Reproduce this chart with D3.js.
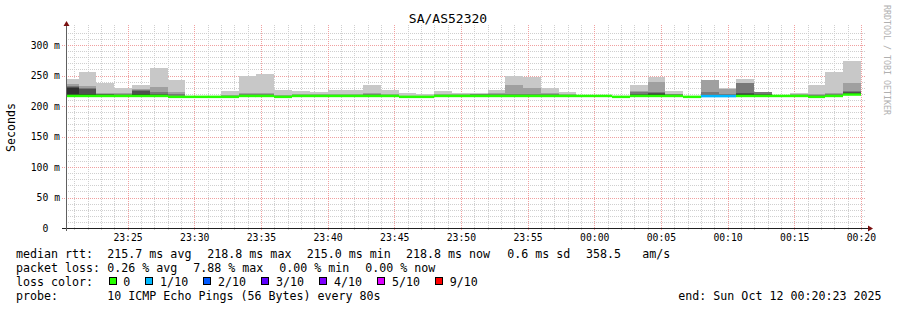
<!DOCTYPE html>
<html>
<head>
<meta charset="utf-8">
<script src="https://cdn.jsdelivr.net/npm/d3@7"></script>
<style>
  body { margin: 0; background: #fff; }
  text { font-family: "DejaVu Sans Mono", monospace; white-space: pre; fill: #000; }
</style>
</head>
<body>
<div id="chart"></div>
<script>
// ---- data, 80 s steps, values in ms ----
var title = "SA/AS52320";
var binStart = new Date(2025, 9, 11, 23, 20, 0);
var stepSec = 80;
var rangeStart = new Date(2025, 9, 11, 23, 20, 23);
var rangeEnd = new Date(2025, 9, 12, 0, 20, 23);

var medianRtt = [216.5,216.5,216.5,216.5,216.5,216.5,215.0,215.0,215.0,215.0,
                 216.5,216.5,215.0,216.5,216.5,216.5,216.5,216.5,216.5,215.0,
                 215.0,216.5,216.5,216.5,216.5,216.5,216.5,216.5,216.5,216.5,
                 216.5,215.0,216.5,216.5,216.5,215.0,216.2,216.2,216.5,216.5,
                 216.5,216.5,215.0,216.5,218.8];
var pingLow   = [215.5,215.5,215.5,215.5,215.5,215.5,214.5,214.5,214.5,214.5,
                 215.5,215.5,214.5,215.5,215.5,215.5,215.5,215.5,215.5,214.5,
                 214.5,215.5,215.5,215.5,215.5,215.5,215.5,215.5,215.5,215.5,
                 215.5,214.5,215.5,215.5,215.5,214.5,215.5,215.5,215.5,215.5,
                 215.5,215.5,214.5,215.5,217.5];
var pingMax   = [245,255,237,229,235,263,243,216,216,224,
                 249,252,227,224,223,226,227,234,227,221,
                 220,224,222,221,226,250,247,230,223,217,
                 217,216,234,247,224,216,243,229,245,223,
                 217,222,234,255,274];
var ping9     = [236,232,222,221,228,231,223,216,216,218,
                 221,221,218,219,219,219,219,221,219,217,
                 217,219,219,220,221,234,229,221,219,217,
                 217,216,224,239,220,216,243,228,237,223,
                 217,219,220,221,237];
var ping8     = [233,229,220,219,227,223,219,216,216,217,
                 219,219,217,218,218,218,218,219,218,216,
                 216,218,218,219,219,220,220,219,218,217,
                 217,216,223,223,219,216,223,220,237,223,
                 217,218,218,219,225];
var ping7     = [231,228,219,218,225,220,217,216,216,216,
                 218,218,216,217,217,217,217,218,217,216,
                 216,217,217,218,218,218,218,218,217,217,
                 217,216,219,222,218,216,218,218,222,220,
                 217,217,217,218,223];
var ping6     = [229,219,218,217,219,218,216,216,216,216,
                 217,217,216,217,217,217,217,217,217,216,
                 216,217,217,217,217,217,217,217,217,217,
                 217,216,218,219,217,216,217,217,219,218,
                 217,217,216,217,221];
var lossCount = [0,0,0,0,0,0,0,0,0,0, 0,0,0,0,0,0,0,0,0,0,
                 0,0,0,0,0,0,0,0,0,0, 0,0,0,0,0,0,1,1,0,0,
                 0,0,0,0,0];

var lossLabels = ["0", "1/10", "2/10", "3/10", "4/10", "5/10", "9/10"];
var lossSteps  = [0, 1, 2, 3, 4, 5, 9];
var lossColors = ["#26ff00", "#00b8ff", "#0059ff", "#5e00ff", "#7e00ff", "#dd00ff", "#ff0000"];
var smokeColors = ["#c8c8c8", "#a0a0a0", "#787878", "#505050", "#303030"];

var yTicks = [0, 50, 100, 150, 200, 250, 300];

var statsRtt  = ["215.7 ms avg", "218.8 ms max", "215.0 ms min", "218.8 ms now", "0.6 ms sd", "358.5", "am/s"];
var statsLoss = ["0.26 % avg", "7.88 % max", "0.00 % min", "0.00 % now"];
var probeText = "10 ICMP Echo Pings (56 Bytes) every 80s";
var endText   = "end: Sun Oct 12 00:20:23 2025";

// ---- layout ----
var W = 897, H = 310;
var pLeft = 66, pRight = 866, pTop = 28, pBottom = 228;

var svg = d3.select("#chart").append("svg")
    .attr("width", W)
    .attr("height", H);

svg.append("rect").attr("width", W).attr("height", H).attr("fill", "#fff");

var x = d3.scaleTime().domain([rangeStart, rangeEnd]).range([pLeft, pRight]);
var y = d3.scaleLinear().domain([0, 200 / 0.61]).range([pBottom, pTop]);

function px(v) { return Math.round(v) + 0.5; }

// grid: minor
var minutes = d3.timeMinute.every(1).range(rangeStart, rangeEnd);
svg.append("g").selectAll("line")
    .data(minutes.filter(function(d) { return d.getMinutes() % 5 != 0; }))
  .enter().append("line")
    .attr("x1", function(d) { return px(x(d)); })
    .attr("x2", function(d) { return px(x(d)); })
    .attr("y1", pTop - 3).attr("y2", pBottom + 2)
    .attr("stroke", "#cfcfcf").attr("stroke-dasharray", "1,1");

svg.append("g").selectAll("line")
    .data(d3.range(10, 330, 10).filter(function(d) { return d % 50 != 0; }))
  .enter().append("line")
    .attr("x1", pLeft).attr("x2", pRight)
    .attr("y1", function(d) { return px(y(d)); })
    .attr("y2", function(d) { return px(y(d)); })
    .attr("stroke", "#cfcfcf").attr("stroke-dasharray", "1,1");

// grid: major
var fives = minutes.filter(function(d) { return d.getMinutes() % 5 == 0; });
svg.append("g").selectAll("line")
    .data(fives)
  .enter().append("line")
    .attr("x1", function(d) { return px(x(d)); })
    .attr("x2", function(d) { return px(x(d)); })
    .attr("y1", pTop - 3).attr("y2", pBottom + 2)
    .attr("stroke", "#f0a0a0").attr("stroke-dasharray", "1,1");

svg.append("g").selectAll("line")
    .data(yTicks.filter(function(d) { return d > 0; }))
  .enter().append("line")
    .attr("x1", pLeft - 4).attr("x2", pRight)
    .attr("y1", function(d) { return px(y(d)); })
    .attr("y2", function(d) { return px(y(d)); })
    .attr("stroke", "#f0a0a0").attr("stroke-dasharray", "1,1");

// smoke
var bins = medianRtt.map(function(m, i) {
  var t0 = new Date(+binStart + i * stepSec * 1000);
  var t1 = new Date(+t0 + stepSec * 1000);
  return {t0: t0, t1: t1, med: m, lo: pingLow[i], loss: lossCount[i],
          tops: [pingMax[i], ping9[i], ping8[i], ping7[i], ping6[i]]};
});

var smoke = svg.append("g");
bins.forEach(function(b) {
  var x0 = Math.max(pLeft, Math.round(x(b.t0)));
  var x1 = Math.round(x(b.t1));
  b.tops.forEach(function(hi, k) {
    if (hi <= b.lo) return;
    smoke.append("rect")
      .attr("x", x0).attr("width", x1 - x0)
      .attr("y", Math.round(y(hi)))
      .attr("height", Math.max(0, Math.round(y(b.lo)) - Math.round(y(hi))))
      .attr("fill", smokeColors[k]);
  });
});

// median line coloured by loss
function lossColor(n) {
  var c = lossColors[0];
  lossSteps.forEach(function(s, i) { if (n >= s) c = lossColors[i]; });
  return c;
}
svg.append("g").selectAll("line")
    .data(bins)
  .enter().append("line")
    .attr("x1", function(d) { return Math.max(pLeft, Math.round(x(d.t0))); })
    .attr("x2", function(d) { return Math.round(x(d.t1)); })
    .attr("y1", function(d) { return y(d.med); })
    .attr("y2", function(d) { return y(d.med); })
    .attr("stroke", function(d) { return lossColor(d.loss); })
    .attr("stroke-width", 2.5);

// axes
svg.append("line")
    .attr("x1", pLeft - 4).attr("x2", pRight + 2)
    .attr("y1", pBottom + 0.5).attr("y2", pBottom + 0.5)
    .attr("stroke", "#202020");
svg.append("line")
    .attr("x1", pLeft + 0.5).attr("x2", pLeft + 0.5)
    .attr("y1", pBottom + 3).attr("y2", pTop - 2)
    .attr("stroke", "#606060");
svg.append("path")
    .attr("d", "M" + (pRight + 2) + "," + (pBottom - 2.5) + "L" + (pRight + 7) + "," + (pBottom + 0.5) + "L" + (pRight + 2) + "," + (pBottom + 3.5) + "Z")
    .attr("fill", "#7a1010");
svg.append("path")
    .attr("d", "M" + (pLeft - 2.5) + "," + (pTop - 2) + "L" + (pLeft + 0.5) + "," + (pTop - 7) + "L" + (pLeft + 3.5) + "," + (pTop - 2) + "Z")
    .attr("fill", "#7a1010");

// x tick labels
svg.append("g").selectAll("text")
    .data(fives)
  .enter().append("text")
    .attr("x", function(d) { return x(d) + 0.5; })
    .attr("y", 241)
    .attr("text-anchor", "middle")
    .attr("font-size", "9.75px")
    .text(d3.timeFormat("%H:%M"));

// y tick labels
svg.append("g").selectAll("text")
    .data(yTicks)
  .enter().append("text")
    .attr("x", 60)
    .attr("y", function(d) { return y(d) + 3.5; })
    .attr("text-anchor", "end")
    .attr("font-size", "9.75px")
    .text(function(d) { return d == 0 ? "0  " : d + " m"; });

// title and axis label
svg.append("text")
    .attr("x", 448).attr("y", 23)
    .attr("text-anchor", "middle")
    .attr("font-size", "13px")
    .text(title);

svg.append("text")
    .attr("transform", "translate(15,127.5) rotate(-90)")
    .attr("text-anchor", "middle")
    .attr("font-size", "11.6px")
    .text("Seconds");

svg.append("text")
    .attr("transform", "translate(884,5) rotate(90)")
    .attr("font-size", "8.3px")
    .style("fill", "#b0b0b0")
    .text("RRDTOOL / TOBI OETIKER");

// legend
var fs = "11.65px";
var rttX = [107.3, 207.3, 306.7, 406, 507.3, 586, 642.3];
var lossX = [107.3, 193.3, 279.3, 365.3];

function legendText(xp, yp, s) {
  return svg.append("text").attr("x", xp).attr("y", yp).attr("font-size", fs).text(s);
}

legendText(16, 258, "median rtt:");
statsRtt.forEach(function(s, i) { legendText(rttX[i], 258, s); });

legendText(16, 272, "packet loss:");
statsLoss.forEach(function(s, i) { legendText(lossX[i], 272, s); });

legendText(16, 286, "loss color:");
var lx = 108.5;
lossLabels.forEach(function(s, i) {
  svg.append("rect")
    .attr("x", Math.round(lx) + 0.5).attr("y", 277.5)
    .attr("width", 7).attr("height", 7)
    .attr("fill", lossColors[i])
    .attr("stroke", "#000");
  var t = legendText(lx + 14.7, 286, s);
  lx = lx + 14.7 + t.node().getComputedTextLength() + 15.2;
});

legendText(16, 300, "probe:");
legendText(107.3, 300, probeText);
legendText(678.3, 300, endText);
</script>
</body>
</html>
